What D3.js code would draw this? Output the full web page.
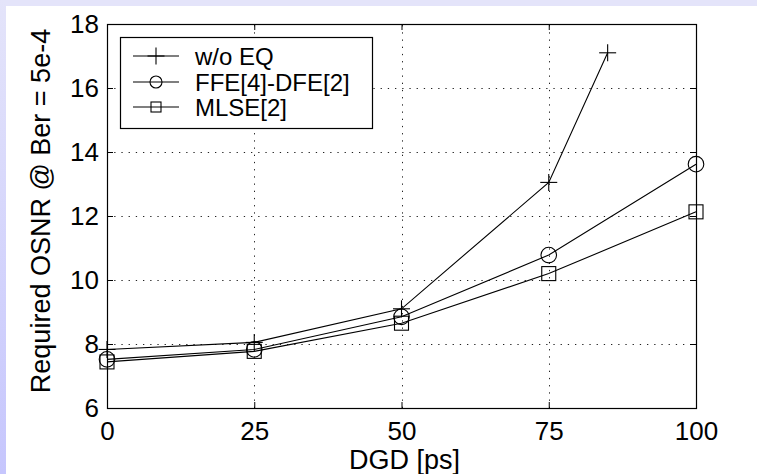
<!DOCTYPE html>
<html>
<head>
<meta charset="utf-8">
<script src="https://cdn.jsdelivr.net/npm/d3@7"></script>
<style>
  html, body { margin: 0; padding: 0; background: #ffffff; }
  svg { display: block; }
  text { font-family: "Liberation Sans", Arial, sans-serif; fill: #000; }
</style>
</head>
<body>
<svg id="chart" width="757" height="474"></svg>
<script>
// DGD sweep (ps) and required OSNR (dB) at BER = 5e-4
const dgd = [0, 25, 50, 75, 100];
const dgdNoEq = [0, 25, 50, 75, 85];
const osnrNoEq = [7.83, 8.05, 9.1, 13.05, 17.1];
const osnrFfeDfe = [7.52, 7.83, 8.85, 10.78, 13.62];
const osnrMlse = [7.44, 7.77, 8.65, 10.2, 12.13];

const xTicks = [0, 25, 50, 75, 100];
const yTicks = [6, 8, 10, 12, 14, 16, 18];
const xGrid = [25, 50, 75];
const yGrid = [8, 10, 12, 14, 16];

const seriesNames = ["w/o EQ", "FFE[4]-DFE[2]", "MLSE[2]"];
const seriesMarkers = ["plus", "circle", "square"];

const W = 757, H = 474;
const plot = { left: 107, right: 696, top: 24, bottom: 408 };

const svg = d3.select("#chart");

// Frame background: light lavender band on top and a shaded band on the left
const defs = svg.append("defs");
const grad = defs.append("linearGradient")
  .attr("id", "sideBand").attr("x1", 0).attr("y1", 0).attr("x2", 0).attr("y2", 1);
grad.append("stop").attr("offset", "0%").attr("stop-color", "#e4e4fa");
grad.append("stop").attr("offset", "100%").attr("stop-color", "#c6c6fd");

svg.append("rect").attr("x", 0).attr("y", 0).attr("width", W).attr("height", H).attr("fill", "#ffffff");
svg.append("rect").attr("x", 0).attr("y", 0).attr("width", W).attr("height", 6).attr("fill", "#e4e4fa");
svg.append("rect").attr("x", 0).attr("y", 0).attr("width", 6).attr("height", H).attr("fill", "url(#sideBand)");

const x = d3.scaleLinear().domain([0, 100]).range([plot.left, plot.right]);
const y = d3.scaleLinear().domain([6, 18]).range([plot.bottom, plot.top]);

// Plot area
svg.append("rect")
  .attr("x", plot.left).attr("y", plot.top)
  .attr("width", plot.right - plot.left).attr("height", plot.bottom - plot.top)
  .attr("fill", "#ffffff");

// Dotted grid
const grid = svg.append("g").attr("stroke", "#222").attr("stroke-width", 1)
  .attr("stroke-dasharray", "1.3,5.9").attr("fill", "none");
grid.selectAll("line.v").data(xGrid).join("line").attr("class", "v")
  .attr("x1", d => Math.round(x(d)) + 0.5).attr("x2", d => Math.round(x(d)) + 0.5)
  .attr("y1", plot.bottom).attr("y2", plot.top);
grid.selectAll("line.h").data(yGrid).join("line").attr("class", "h")
  .attr("y1", d => Math.round(y(d)) + 0.5).attr("y2", d => Math.round(y(d)) + 0.5)
  .attr("x1", plot.left).attr("x2", plot.right);

// Axes with inward ticks on all four sides
const tickLen = 6;
const fontTick = 26;

const gBottom = svg.append("g").attr("transform", `translate(0,${plot.bottom})`)
  .call(d3.axisBottom(x).tickValues(xTicks).tickSizeInner(-tickLen).tickSizeOuter(0).tickPadding(14).tickFormat(d3.format("d")));
const gLeft = svg.append("g").attr("transform", `translate(${plot.left},0)`)
  .call(d3.axisLeft(y).tickValues(yTicks).tickSizeInner(-tickLen).tickSizeOuter(0).tickPadding(8).tickFormat(d3.format("d")));
const gTop = svg.append("g").attr("transform", `translate(0,${plot.top})`)
  .call(d3.axisTop(x).tickValues(xTicks).tickSizeInner(-tickLen).tickSizeOuter(0).tickFormat(""));
const gRight = svg.append("g").attr("transform", `translate(${plot.right},0)`)
  .call(d3.axisRight(y).tickValues(yTicks).tickSizeInner(-tickLen).tickSizeOuter(0).tickFormat(""));

[gBottom, gLeft, gTop, gRight].forEach(g => {
  g.select(".domain").remove();
  g.selectAll("line").attr("stroke", "#000").attr("stroke-width", 1);
  g.selectAll("text").attr("font-family", "Liberation Sans, Arial, sans-serif")
    .attr("font-size", fontTick).attr("fill", "#000");
});

// Plot box
svg.append("rect")
  .attr("x", plot.left + 0.5).attr("y", plot.top + 0.5)
  .attr("width", plot.right - plot.left).attr("height", plot.bottom - plot.top)
  .attr("fill", "none").attr("stroke", "#000").attr("stroke-width", 1.2);

// Axis titles
svg.append("text")
  .attr("x", (plot.left + plot.right) / 2 + 3).attr("y", 469)
  .attr("text-anchor", "middle").attr("font-size", 27)
  .text("DGD [ps]");
svg.append("text")
  .attr("transform", `translate(50,${211}) rotate(-90)`)
  .attr("text-anchor", "middle").attr("font-size", 27)
  .text("Required OSNR @ Ber = 5e-4");

// Markers
function drawMarker(g, type, cx, cy, s) {
  if (type === "plus") {
    g.append("line").attr("x1", cx - s).attr("x2", cx + s).attr("y1", cy).attr("y2", cy);
    g.append("line").attr("x1", cx).attr("x2", cx).attr("y1", cy - s).attr("y2", cy + s);
  } else if (type === "circle") {
    g.append("circle").attr("cx", cx).attr("cy", cy).attr("r", s);
  } else {
    g.append("rect").attr("x", cx - s).attr("y", cy - s).attr("width", 2 * s).attr("height", 2 * s);
  }
}

const series = [
  { xs: dgdNoEq, ys: osnrNoEq, marker: seriesMarkers[0], size: 8.5 },
  { xs: dgd, ys: osnrFfeDfe, marker: seriesMarkers[1], size: 7.8 },
  { xs: dgd, ys: osnrMlse, marker: seriesMarkers[2], size: 7 }
];

const line = d3.line().x(d => x(d[0])).y(d => y(d[1]));
const gData = svg.append("g").attr("stroke", "#000").attr("stroke-width", 1.1).attr("fill", "none");
series.forEach(s => {
  const pts = s.xs.map((v, i) => [v, s.ys[i]]);
  gData.append("path").attr("d", line(pts));
  pts.forEach(p => drawMarker(gData, s.marker, x(p[0]), y(p[1]), s.size));
});

// Legend
const legend = svg.append("g");
legend.append("rect")
  .attr("x", 120.5).attr("y", 37.5).attr("width", 252).attr("height", 91)
  .attr("fill", "#ffffff").attr("stroke", "#000").attr("stroke-width", 1.2);
const rowY = [56, 82, 107];
const legendSizes = [8.5, 6, 5];
seriesNames.forEach((name, i) => {
  const gl = legend.append("g").attr("stroke", "#000").attr("stroke-width", 1.1).attr("fill", "none");
  gl.append("line").attr("x1", 133).attr("x2", 179).attr("y1", rowY[i]).attr("y2", rowY[i]);
  drawMarker(gl, seriesMarkers[i], 156, rowY[i], legendSizes[i]);
  legend.append("text").attr("x", 195).attr("y", rowY[i] + 8.6)
    .attr("font-size", 24).text(name);
});
</script>
</body>
</html>
